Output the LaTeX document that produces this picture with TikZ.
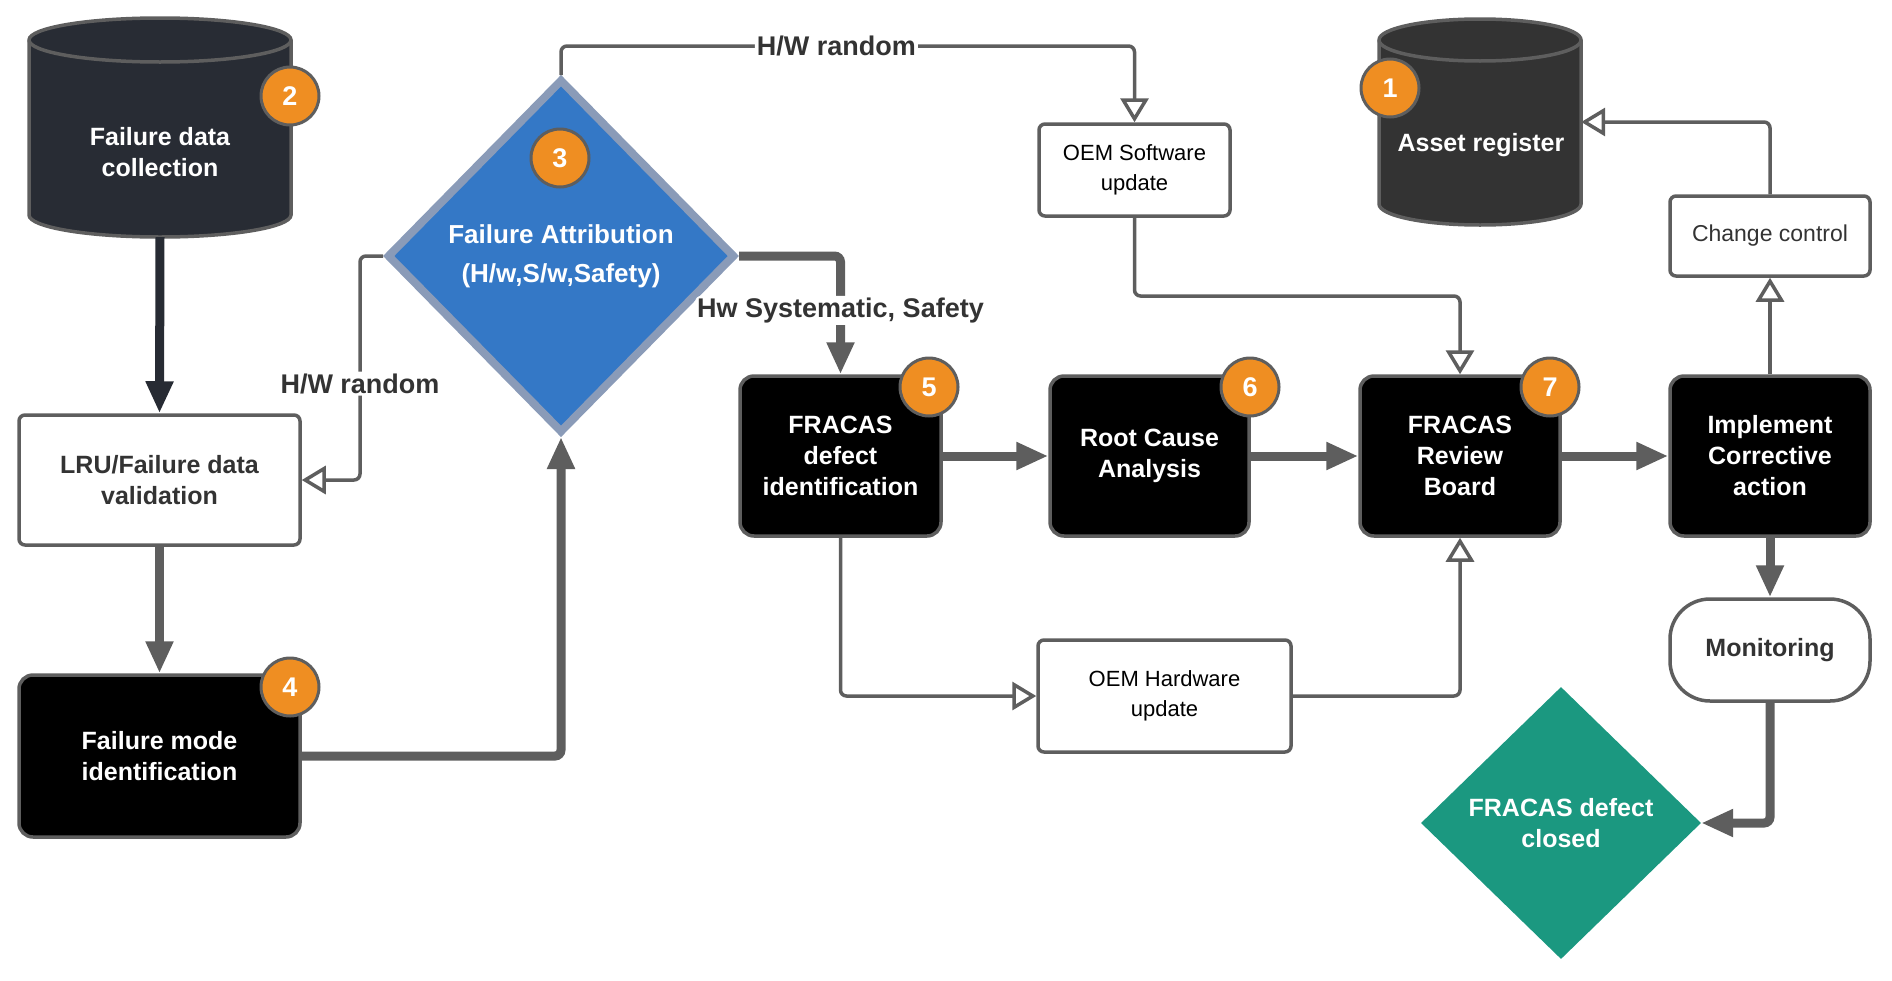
\documentclass[tikz,border=0pt]{standalone}
\usepackage{fontspec}
\setmainfont{Liberation Sans}
\usetikzlibrary{arrows.meta,shapes.geometric}
\definecolor{bgrey}{HTML}{5E5E5E}
\definecolor{txtgrey}{HTML}{333333}
\definecolor{cylnavy}{HTML}{282C34}
\definecolor{cyldark}{HTML}{333333}
\definecolor{darkarrow}{HTML}{272B33}
\definecolor{attrblue}{HTML}{3478C6}
\definecolor{attrborder}{HTML}{8A9BB8}
\definecolor{tealc}{HTML}{1B9880}
\definecolor{orangeb}{HTML}{EF8E22}
\tikzset{
  bigtext/.style={font=\bfseries\fontsize{25}{31}\selectfont},
  blackbox/.style={draw=bgrey, line width=3.5pt, fill=black, rounded corners=14pt, text=white, align=center, inner sep=0pt, bigtext},
  whitebox/.style={draw=bgrey, line width=3.5pt, fill=white, rounded corners=6pt, align=center, inner sep=0pt},
  regtext/.style={font=\fontsize{22}{30}\selectfont},
  badge/.style={circle, draw=bgrey, line width=3pt, fill=orangeb, text=white, minimum size=58pt, inner sep=0pt, font=\bfseries\fontsize{27}{27}\selectfont},
  thickarrow/.style={draw=bgrey, line width=9pt, rounded corners=6pt, -{Triangle[length=32pt,width=26pt]}},
  thinarrow/.style={draw=bgrey, line width=3.5pt, rounded corners=6pt, -{Triangle[open,length=24pt,width=28pt]}},
  lbl/.style={fill=white, text=txtgrey, font=\bfseries\fontsize{27}{32}\selectfont, inner sep=2pt},
  cylbody/.style={draw=none, inner sep=0pt}
}
\begin{document}
\begin{tikzpicture}[x=1pt,y=-1pt]
\useasboundingbox (0,0) rectangle (1892,980);

% cylinder: Failure data collection
\node[cylbody, minimum width=262pt, minimum height=219pt] (fdc) at (160,127.5) {};
\draw[fill=cylnavy, draw=bgrey, line width=3.5pt] (29,40) -- (29,215)
  arc[start angle=180, end angle=360, x radius=131pt, y radius=22pt] -- (291,40)
  arc[start angle=0, end angle=180, x radius=131pt, y radius=22pt] -- cycle;
\draw[draw=bgrey, line width=3.5pt] (29,40) arc[start angle=180, end angle=360, x radius=131pt, y radius=22pt];
\node[text=white, align=center, bigtext] (fdctext) at (160,152) {Failure data\\collection};

% cylinder: Asset register
\node[cylbody, minimum width=202pt, minimum height=206pt] (ar) at (1480,122) {};
\draw[fill=cyldark, draw=bgrey, line width=3.5pt] (1379,40) -- (1379,204)
  arc[start angle=180, end angle=360, x radius=101pt, y radius=21pt] -- (1581,40)
  arc[start angle=0, end angle=180, x radius=101pt, y radius=21pt] -- cycle;
\draw[draw=bgrey, line width=3.5pt] (1379,40) arc[start angle=180, end angle=360, x radius=101pt, y radius=21pt];
\node[text=white, align=center, bigtext] (artext) at (1481,145) {Asset register};

% boxes
\node[whitebox, minimum width=281pt, minimum height=130pt, text=txtgrey, bigtext] (lru) at (159.5,480) {LRU/Failure data\\validation};
\node[blackbox, minimum width=281pt, minimum height=162pt] (fm) at (159.5,756) {Failure mode\\identification};
\node[diamond, draw=attrborder, line width=8pt, fill=attrblue, minimum width=348pt, minimum height=354pt, inner sep=0pt, text=white, align=center, font=\bfseries\fontsize{26}{39}\selectfont] (attr) at (561,256) {Failure Attribution\\(H/w,S/w,Safety)};
\node[blackbox, minimum width=201pt, minimum height=160pt] (fdi) at (840.5,456) {FRACAS\\defect\\identification};
\node[blackbox, minimum width=199pt, minimum height=160pt] (rca) at (1149.5,456) {Root Cause\\Analysis};
\node[blackbox, minimum width=200pt, minimum height=160pt] (frb) at (1460,456) {FRACAS\\Review\\Board};
\node[blackbox, minimum width=200pt, minimum height=160pt] (imp) at (1770,456) {Implement\\Corrective\\action};
\node[whitebox, minimum width=191pt, minimum height=92pt, regtext, text=black] (oemsw) at (1134.5,170) {OEM Software\\update};
\node[whitebox, minimum width=253pt, minimum height=112pt, regtext, text=black] (oemhw) at (1164.5,696) {OEM Hardware\\update};
\node[whitebox, minimum width=200pt, minimum height=80pt, text=txtgrey, font=\fontsize{23}{28}\selectfont] (cc) at (1770,236) {Change control};
\node[whitebox, rounded corners=40pt, minimum width=200pt, minimum height=102pt, text=txtgrey, bigtext] (mon) at (1770,650) {Monitoring};
\node[diamond, fill=tealc, minimum width=280pt, minimum height=272pt, inner sep=0pt, text=white, align=center, bigtext] (closed) at (1561,823) {FRACAS defect\\closed};

% helper coordinates
\coordinate (c1) at (360,256);
\coordinate (c2) at (360,480);
\coordinate (c3) at (561,46);
\coordinate (c4) at (1134.5,46);
\coordinate (c5) at (840.5,256);
\coordinate (c6) at (1134.5,296);
\coordinate (c7) at (1460,296);

% connectors
\draw[thickarrow, draw=darkarrow] (fdc.south) -- (lru.north);
\draw[thickarrow] (lru.south) -- (fm.north);
\draw[thickarrow] (fm.east) -| (attr.south);
\draw[thinarrow] (attr.west) -- (c1) -- node[lbl, pos=0.57] {H/W random} (c2) -- (lru.east);
\draw[thinarrow] (attr.north) -- (c3) -- node[lbl, pos=0.48] {H/W random} (c4) -- (oemsw.north);
\draw[thickarrow] (attr.east) -- (c5) -- node[lbl, pos=0.46] {Hw Systematic, Safety} (fdi.north);
\draw[thickarrow] (fdi.east) -- (rca.west);
\draw[thickarrow] (rca.east) -- (frb.west);
\draw[thickarrow] (frb.east) -- (imp.west);
\draw[thinarrow] (oemsw.south) -- (c6) -- (c7) -- (frb.north);
\draw[thinarrow] (fdi.south) |- (oemhw.west);
\draw[thinarrow] (oemhw.east) -| (frb.south);
\draw[thinarrow] (imp.north) -- (cc.south);
\draw[thinarrow] (cc.north) |- (ar.east);
\draw[thickarrow] (imp.south) -- (mon.north);
\draw[thickarrow] (mon.south) |- (closed.east);

% badges
\node[badge] (b1) at (1390,88) {1};
\node[badge] (b2) at (290,96) {2};
\node[badge] (b3) at (560,158) {3};
\node[badge] (b4) at (290,687) {4};
\node[badge] (b5) at (929,387) {5};
\node[badge] (b6) at (1250,387) {6};
\node[badge] (b7) at (1550,387) {7};
\end{tikzpicture}
\end{document}
